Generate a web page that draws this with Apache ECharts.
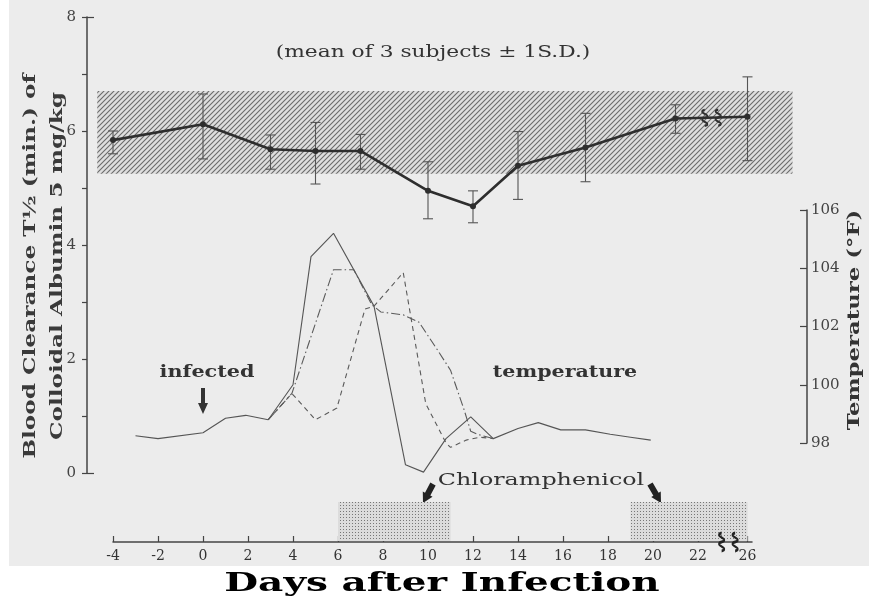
<!DOCTYPE html>
<html>
<head>
<meta charset="utf-8">
<script src="https://cdn.jsdelivr.net/npm/echarts@6/dist/echarts.min.js"></script>
<style>
  html, body { margin: 0; padding: 0; background: #fff; }
  #chart { width: 869px; height: 601px; }
</style>
</head>
<body>
<div id="chart"></div>
<script>
// blood clearance, mean of 3 subjects +/- 1 S.D.
const days = [-4, 0, 3, 5, 7, 10, 12, 14, 17, 21, 26];
const means = [5.84, 6.12, 5.68, 5.65, 5.65, 4.95, 4.68, 5.39, 5.71, 6.22, 6.25];
const lows = [5.6, 5.51, 5.33, 5.07, 5.33, 4.46, 4.39, 4.8, 5.11, 5.96, 5.48];
const highs = [6.0, 6.65, 5.93, 6.15, 5.94, 5.46, 4.95, 5.99, 6.31, 6.46, 6.95];
const normalRange = [5.25, 6.7];

// temperature of the three subjects, [day, deg F]
const tempSolid = [[-3, 98.25], [-2, 98.15], [0, 98.35], [1, 98.85], [1.9, 98.95], [2.9, 98.8], [4, 100], [4.8, 104.4], [5.8, 105.2], [7.6, 102.7], [9, 97.25], [9.8, 97.0], [10.8, 98.15], [11.9, 98.9], [12.9, 98.15], [14, 98.5], [14.9, 98.7], [15.9, 98.45], [17, 98.45], [18.1, 98.3], [19, 98.2], [19.9, 98.1]];
const tempDashDot = [[2.9, 98.8], [3.95, 99.7], [5.8, 103.95], [6.7, 103.95], [7.5, 102.75], [7.9, 102.5], [8.9, 102.4], [9.6, 102.15], [10.5, 101.1], [11, 100.5], [11.6, 99.15], [11.9, 98.4], [12.2, 98.3], [12.9, 98.15]];
const tempDashed = [[2.9, 98.8], [3.95, 99.7], [5, 98.8], [5.95, 99.2], [7.2, 102.6], [7.6, 102.7], [8.9, 103.85], [9.9, 99.35], [10.8, 98.0], [11, 97.85], [11.7, 98.1], [12.3, 98.2], [12.9, 98.15]];

// chloramphenicol courses [from day, to day]
const drugCourses = [[6, 11], [19, 26]];

const dayTicks = [-4, -2, 0, 2, 4, 6, 8, 10, 12, 14, 16, 18, 20, 22, 26];

// the day axis is broken between 22 and 26
function pos(d) { return d <= 22 ? d : 24.2; }

const PAPER = '#ececec';
const INK = '#2e2e2e';
const SERIF = 'DejaVu Serif';

function hatchCanvas() {
  const c = document.createElement('canvas');
  c.width = c.height = 5;
  const g = c.getContext('2d');
  g.fillStyle = '#dedede';
  g.fillRect(0, 0, 5, 5);
  g.strokeStyle = '#6a6a6a';
  g.lineWidth = 1.1;
  g.beginPath();
  g.moveTo(-1, 6); g.lineTo(6, -1);
  g.moveTo(-1, 1); g.lineTo(1, -1);
  g.moveTo(4, 6); g.lineTo(6, 4);
  g.stroke();
  return c;
}

function dotCanvas() {
  const c = document.createElement('canvas');
  c.width = c.height = 3;
  const g = c.getContext('2d');
  g.fillStyle = '#dcdcdc';
  g.fillRect(0, 0, 3, 3);
  g.fillStyle = '#777';
  g.fillRect(1, 1, 1, 1);
  return c;
}

function arrow(x1, y1, x2, y2, w, hw, hl) {
  const dx = x2 - x1, dy = y2 - y1, len = Math.hypot(dx, dy);
  const ux = dx / len, uy = dy / len, nx = -uy, ny = ux;
  const bx = x2 - ux * hl, by = y2 - uy * hl;
  return [
    [x1 + nx * w / 2, y1 + ny * w / 2], [bx + nx * w / 2, by + ny * w / 2],
    [bx + nx * hw / 2, by + ny * hw / 2], [x2, y2],
    [bx - nx * hw / 2, by - ny * hw / 2], [bx - nx * w / 2, by - ny * w / 2],
    [x1 - nx * w / 2, y1 - ny * w / 2]
  ];
}

// wide, letter-spaced lettering of the original
function label(text, x, y, font, sx, extra) {
  return Object.assign({
    type: 'text', x: x, y: y, scaleX: sx,
    style: { text: text, font: font, fill: '#333', align: 'center', verticalAlign: 'middle' }
  }, extra || {});
}

const squiggle = 'path://M4,0 C0,4 8,8 4,12 C0,16 8,20 4,24';
const GRID = { left: 113, right: 117 };
const X_MIN = -4, X_MAX = 24.4;
const BAND_X = [-4.7, 26.2];

const chart = echarts.init(document.getElementById('chart'));
const hatch = { image: hatchCanvas(), repeat: 'repeat' };
const dots = { image: dotCanvas(), repeat: 'repeat' };

const hiddenX = i => ({ type: 'value', gridIndex: i, min: X_MIN, max: X_MAX, show: false });
const axisInk = { color: '#444', width: 1.5 };
const tickInk = { color: '#444', width: 1.2 };

chart.setOption({
  backgroundColor: PAPER,
  animation: false,
  textStyle: { fontFamily: SERIF },
  grid: [
    { left: GRID.left, right: GRID.right, top: 17, bottom: 128 },
    { left: GRID.left, right: GRID.right, top: 210, bottom: 158 },
    { left: GRID.left, right: GRID.right, top: 502, bottom: 59 }
  ],
  xAxis: [
    hiddenX(0),
    hiddenX(1),
    {
      type: 'value', gridIndex: 2, min: X_MIN, max: X_MAX,
      axisLine: { onZero: false, lineStyle: axisInk },
      splitLine: { show: false },
      axisTick: { inside: true, length: 6, lineStyle: tickInk, customValues: dayTicks.map(pos) },
      axisLabel: {
        customValues: dayTicks.map(pos), margin: 7, fontSize: 14, color: '#333',
        formatter: v => String(dayTicks[dayTicks.map(pos).indexOf(v)])
      }
    }
  ],
  yAxis: [
    {
      type: 'value', gridIndex: 0, position: 'left', offset: 26, min: 0, max: 8, interval: 1,
      axisLine: { show: true, onZero: false, lineStyle: axisInk },
      axisTick: { show: true, length: 5, lineStyle: tickInk },
      splitLine: { show: false },
      axisLabel: { fontSize: 15, color: '#444', margin: 11, formatter: v => (v % 2 === 0 ? String(v) : '') }
    },
    {
      type: 'value', gridIndex: 0, position: 'left', offset: 26, min: 0, max: 8, interval: 8,
      axisLine: { show: false, onZero: false }, axisLabel: { show: false }, splitLine: { show: false },
      axisTick: { show: true, inside: true, length: 7, lineStyle: tickInk }
    },
    {
      type: 'value', gridIndex: 1, position: 'right', offset: 55, min: 98, max: 106, interval: 2,
      axisLine: { show: true, onZero: false, lineStyle: axisInk },
      axisTick: { show: true, inside: true, length: 7, lineStyle: tickInk },
      splitLine: { show: false },
      axisLabel: { fontSize: 15, color: '#444', margin: 4 }
    },
    { type: 'value', gridIndex: 2, min: 0, max: 1, show: false }
  ],
  series: [
    {
      type: 'custom', name: 'normal range', xAxisIndex: 0, yAxisIndex: 0, clip: false, silent: true, z: 1,
      encode: { x: -1, y: [0, 1] },
      data: [normalRange],
      renderItem(params, api) {
        const a = api.coord([BAND_X[0], api.value(1)]);
        const b = api.coord([BAND_X[1], api.value(0)]);
        return { type: 'rect', shape: { x: a[0], y: a[1], width: b[0] - a[0], height: b[1] - a[1] }, style: { fill: hatch } };
      }
    },
    {
      type: 'custom', name: 'S.D.', xAxisIndex: 0, yAxisIndex: 0, clip: false, silent: true, z: 4,
      encode: { x: 0, y: [1, 2] },
      data: days.map((d, i) => [pos(d), lows[i], highs[i]]),
      renderItem(params, api) {
        const lo = api.coord([api.value(0), api.value(1)]);
        const hi = api.coord([api.value(0), api.value(2)]);
        const w = 5, st = { stroke: '#555', lineWidth: 1.1 };
        return {
          type: 'group', children: [
            { type: 'line', shape: { x1: lo[0], y1: lo[1], x2: hi[0], y2: hi[1] }, style: st },
            { type: 'line', shape: { x1: lo[0] - w, y1: lo[1], x2: lo[0] + w, y2: lo[1] }, style: st },
            { type: 'line', shape: { x1: hi[0] - w, y1: hi[1], x2: hi[0] + w, y2: hi[1] }, style: st }
          ]
        };
      }
    },
    {
      type: 'line', name: 'mean', xAxisIndex: 0, yAxisIndex: 0, z: 5,
      data: days.map((d, i) => [pos(d), means[i]]),
      symbol: 'circle', symbolSize: 6, showSymbol: true,
      lineStyle: { color: INK, width: 2.6 }, itemStyle: { color: INK },
      markPoint: {
        symbol: squiggle, symbolSize: [6, 16], silent: true, label: { show: false },
        itemStyle: { color: 'rgba(0,0,0,0)', borderColor: INK, borderWidth: 1.4 },
        data: [{ coord: [22.3, 6.23] }, { coord: [22.9, 6.235] }]
      }
    },
    {
      type: 'line', name: 'temp 1', xAxisIndex: 1, yAxisIndex: 2, clip: false, z: 3,
      data: tempSolid, symbol: 'none', lineStyle: { color: '#555', width: 1.1 }
    },
    {
      type: 'line', name: 'temp 2', xAxisIndex: 1, yAxisIndex: 2, clip: false, z: 3,
      data: tempDashDot, symbol: 'none', lineStyle: { color: '#5a5a5a', width: 1.1, type: [9, 3, 1.5, 3] }
    },
    {
      type: 'line', name: 'temp 3', xAxisIndex: 1, yAxisIndex: 2, clip: false, z: 3,
      data: tempDashed, symbol: 'none', lineStyle: { color: '#5a5a5a', width: 1.1, type: [5, 4] }
    },
    {
      type: 'custom', name: 'Chloramphenicol', xAxisIndex: 2, yAxisIndex: 3, clip: false, silent: true, z: 1,
      encode: { x: [0, 1] },
      data: drugCourses.map(c => [pos(c[0]), pos(c[1])]),
      renderItem(params, api) {
        const a = api.coord([api.value(0), 1]);
        const b = api.coord([api.value(1), 0]);
        return { type: 'rect', shape: { x: a[0], y: a[1], width: b[0] - a[0], height: b[1] - a[1] - 1 }, style: { fill: dots } };
      }
    },
    {
      type: 'line', name: 'axis break', xAxisIndex: 2, yAxisIndex: 3, data: [], z: 6,
      markPoint: {
        symbol: squiggle, symbolSize: [6, 18], silent: true, label: { show: false },
        itemStyle: { color: 'rgba(0,0,0,0)', borderColor: '#222', borderWidth: 1.6 },
        data: [{ coord: [23.05, 0] }, { coord: [23.65, 0] }]
      }
    }
  ],
  graphic: [
    { type: 'rect', z: -100, shape: { x: 0, y: 566, width: 869, height: 35 }, style: { fill: '#fff' } },
    { type: 'rect', z: -100, shape: { x: 0, y: 0, width: 9, height: 601 }, style: { fill: '#fff' } },
    label('Blood Clearance T½ (min.) of\nColloidal Albumin 5 mg/kg', 44, 266, 'bold 16px "DejaVu Serif"', 1.45,
      { rotation: Math.PI / 2, style: { text: 'Blood Clearance T½ (min.) of\nColloidal Albumin 5 mg/kg', font: 'bold 16px "DejaVu Serif"', fill: '#3a3a3a', align: 'center', verticalAlign: 'middle', lineHeight: 27 } }),
    label('Temperature (°F)', 855, 320, 'bold 17px "DejaVu Serif"', 1.34, { rotation: Math.PI / 2 }),
    label('Days after Infection', 442, 584, 'bold 26px "DejaVu Serif"', 1.5, { style: { text: 'Days after Infection', font: 'bold 26px "DejaVu Serif"', fill: '#000', align: 'center', verticalAlign: 'middle' } }),
    label('(mean of 3 subjects ± 1S.D.)', 433, 53, '17px "DejaVu Serif"', 1.28),
    {
      type: 'rect', z: 0, shape: { x: 274, y: 97, width: 352, height: 20 }, style: { fill: PAPER }
    },
    label('normal range (mean ±1S.D.)', 451, 107, 'bold 17px "DejaVu Serif"', 1.25),
    label('infected', 207, 373, 'bold 17px "DejaVu Serif"', 1.22),
    label('temperature', 565, 373, 'bold 17px "DejaVu Serif"', 1.21),
    label('Chloramphenicol', 541, 481, '17px "DejaVu Serif"', 1.4),
    { type: 'polygon', shape: { points: arrow(203, 388, 203, 414, 4, 10, 11) }, style: { fill: '#333' } },
    { type: 'polygon', shape: { points: arrow(433, 484, 423, 503, 6, 11, 10) }, style: { fill: '#222' } },
    { type: 'polygon', shape: { points: arrow(650, 484, 661, 503, 6, 11, 10) }, style: { fill: '#222' } }
  ]
});
</script>
</body>
</html>
